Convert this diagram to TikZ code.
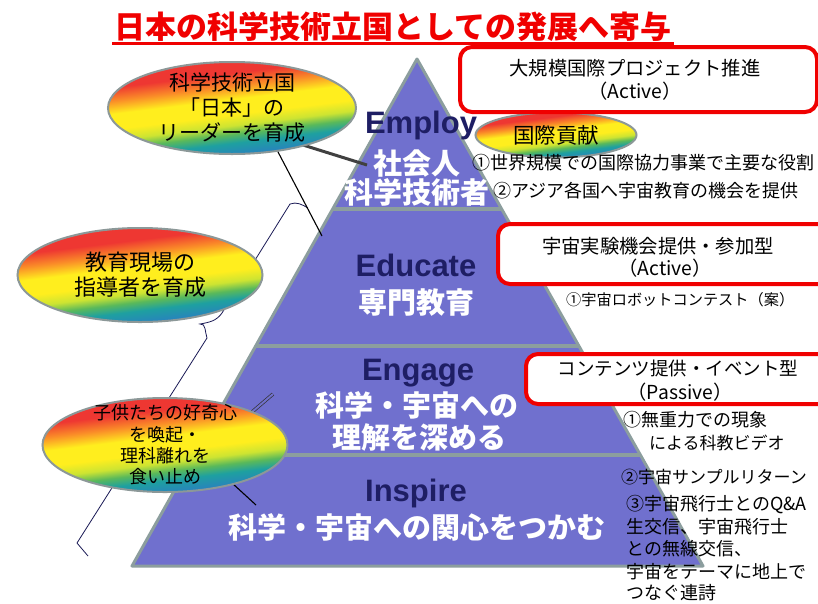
\documentclass[tikz,border=0pt]{standalone}
\usepackage{fontspec}
\setmainfont{Noto Sans CJK JP}
\newfontfamily\lat{Liberation Sans}
\usetikzlibrary{shapes.geometric,calc}
\definecolor{pyr}{RGB}{112,112,206}
\definecolor{pyredge}{RGB}{140,158,158}
\definecolor{navy}{RGB}{30,30,100}
\definecolor{ellborder}{RGB}{140,152,152}
\definecolor{boxred}{RGB}{240,0,0}
\definecolor{rbA}{RGB}{238,55,50}
\definecolor{rbB}{RGB}{250,140,40}
\definecolor{rbC}{RGB}{255,238,30}
\definecolor{rbD}{RGB}{205,228,50}
\definecolor{rbE}{RGB}{90,185,90}
\definecolor{rbF}{RGB}{30,160,160}
\definecolor{rbG}{RGB}{40,130,190}
\pgfdeclarehorizontalshading{rainbow}{100bp}{color(0bp)=(rbA); color(34bp)=(rbA); color(40bp)=(rbB); color(46bp)=(rbC); color(53bp)=(rbC); color(58bp)=(rbD); color(62bp)=(rbE); color(66bp)=(rbF); color(72bp)=(rbG); color(100bp)=(rbG)}
\begin{document}
\begin{tikzpicture}[x=1pt,y=-1pt,
  ell/.style={ellipse, draw=ellborder, line width=2pt, shading=rainbow, shading angle=-83, inner sep=0pt},
  elltext/.style={align=center, inner sep=0pt, text=black},
  redbox/.style={draw=boxred, line width=4pt, rounded corners=12pt, fill=white, anchor=north west, inner sep=0pt},
  en/.style={font=\lat\bfseries\fontsize{31}{31}\selectfont, text=navy, inner sep=0pt},
  jw/.style={font=\bfseries\fontsize{29}{29}\selectfont, text=white, inner sep=0pt},
  rt/.style={font=\fontsize{18}{18}\selectfont, anchor=west, inner sep=0pt},
  bt/.style={font=\fontsize{19.3}{19.3}\selectfont, inner sep=0pt},
  sepline/.style={draw=pyredge, line width=3.5pt},
  conn/.style={draw=black, line width=1.1pt},
  bracel/.style={draw=navy!85!black, line width=0.8pt}]
\useasboundingbox (0,0) rectangle (818,603);
\fill[white] (0,0) rectangle (818,603);

% pyramid
\coordinate (apex) at (417,59);
\coordinate (bl) at (132,566);
\coordinate (br) at (703,566);
\path[fill=pyr, draw=pyredge, line width=3pt, line join=round] (apex) -- (br) -- (bl) -- cycle;
\coordinate (s1l) at ($(apex)!0.2959!(bl)$); \coordinate (s1r) at ($(apex)!0.2959!(br)$);
\coordinate (s2l) at ($(apex)!0.5661!(bl)$); \coordinate (s2r) at ($(apex)!0.5661!(br)$);
\coordinate (s3l) at ($(apex)!0.7811!(bl)$); \coordinate (s3r) at ($(apex)!0.7811!(br)$);
\draw[sepline] (s1l) -- (s1r);
\draw[sepline] (s2l) -- (s2r);
\draw[sepline] (s3l) -- (s3r);

% brace line
\coordinate (c1) at (308,208);
\coordinate (c2) at (290,204);
\coordinate (c3) at (222,313);
\coordinate (c4) at (200,324);
\coordinate (c5) at (207,338);
\coordinate (c8) at (77,543);
\coordinate (c9) at (88,556);
\draw[bracel] (c1) to[out=150,in=20] (c2) -- (c3) to[out=235,in=10] (c4) to[out=10,in=110] (c5) -- (c8) -- (c9);

% connectors
\coordinate (k1a) at (303,145); \coordinate (k1b) at (367,165);
\coordinate (k2a) at (277,150); \coordinate (k2b) at (322,236);
\coordinate (k3a) at (252,412); \coordinate (k3b) at (273,394);
\coordinate (k4a) at (232,483); \coordinate (k4b) at (256,505);
\draw[draw=black!75, line width=3pt] (k1a) -- (k1b);
\draw[conn] (k2a) -- (k2b);
\draw[draw=black!80, line width=0.7pt, double=pyr, double distance=2pt] (k3a) -- (k3b);
\draw[conn] (k4a) -- (k4b);

% ellipses
\node[ell, minimum width=248pt, minimum height=92pt] (e1) at (232,108) {};
\node[ell, minimum width=245pt, minimum height=94pt] (e2) at (140,275) {};
\node[ell, minimum width=245pt, minimum height=94pt] (e3) at (165,445) {};
\node[ell, minimum width=161pt, minimum height=45pt] (e4) at (556,135) {};
\node[elltext, font=\fontsize{21}{25}\selectfont] (t1) at (e1) {科学技術立国\\「日本」の\\リーダーを育成};
\node[elltext, font=\fontsize{22}{25}\selectfont] (t2) at (e2) {教育現場の\\指導者を育成};
\node[elltext, font=\fontsize{18}{21.3}\selectfont] (t3) at (e3) {子供たちの好奇心\\を喚起・\\理科離れを\\食い止め};
\node[elltext, font=\fontsize{21.5}{22}\selectfont] (t4) at (e4) {国際貢献};

% pyramid texts
\node[en] (employ) at (421,125) {Employ};
\node[jw] (p1a) at (417,164) {社会人};
\node[jw] (p1b) at (417,192) {科学技術者};
\node[en] (educate) at (416,265) {Educate};
\node[jw] (p2) at (416,303) {専門教育};
\node[en] (engage) at (418,373) {Engage};
\node[jw] (p3a) at (417,405) {科学・宇宙への};
\node[jw] (p3b) at (419,437) {理解を深める};
\node[en] (inspire) at (416,493) {Inspire};
\node[jw] (p4) at (417,527) {科学・宇宙への関心をつかむ};

% title
\node[font=\bfseries\fontsize{31}{31}\selectfont, text=boxred, inner sep=0pt] (title) at (393,27) {日本の科学技術立国としての発展へ寄与};
\draw[boxred, line width=3pt] ($(title.south west)+(-2,1)$) -- ($(title.south east)+(2,1)$);

% red boxes
\node[redbox, minimum width=357pt, minimum height=65pt] (box1) at (458,45) {};
\node[redbox, minimum width=340pt, minimum height=60pt] (box2) at (496,222) {};
\node[redbox, minimum width=310pt, minimum height=50pt] (box3) at (524,352) {};
\node[bt] (b1a) at (635,68) {大規模国際プロジェクト推進};
\node[bt] (b1b) at (635,91) {（Active）};
\node[bt] (b2a) at (658,246) {宇宙実験機会提供・参加型};
\node[bt] (b2b) at (665,268) {（Active）};
\node[bt, font=\fontsize{18.5}{18.5}\selectfont] (b3a) at (678,368) {コンテンツ提供・イベント型};
\node[bt] (b3b) at (680,392) {（Passive）};

% right texts
\node[rt] (r1) at (472,163) {①世界規模での国際協力事業で主要な役割};
\node[rt] (r2) at (493,191) {②アジア各国へ宇宙教育の機会を提供};
\node[rt, font=\fontsize{15.2}{15.2}\selectfont] (r3) at (566,300) {①宇宙ロボットコンテスト（案）};
\node[rt] (r4) at (623,420) {①無重力での現象};
\node[rt, font=\fontsize{17}{17}\selectfont] (r5) at (649,443) {による科教ビデオ};
\node[rt, font=\fontsize{17}{17}\selectfont] (r6) at (621,477) {②宇宙サンプルリターン};
\node[rt] (r7) at (626,505) {③宇宙飛行士とのQ\&A};
\node[rt] (r8) at (626,527) {生交信、宇宙飛行士};
\node[rt] (r9) at (626,549) {との無線交信、};
\node[rt] (r10) at (626,572) {宇宙をテーマに地上で};
\node[rt] (r11) at (626,593) {つなぐ連詩};
\end{tikzpicture}
\end{document}
